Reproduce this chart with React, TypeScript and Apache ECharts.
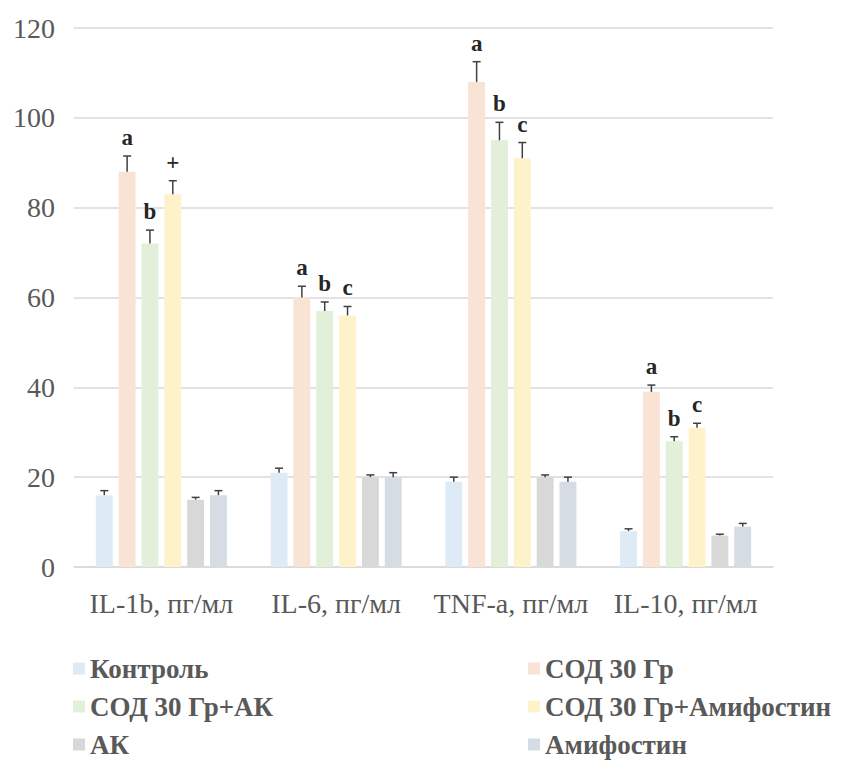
import React, { useEffect, useRef } from "react";
import * as echarts from "echarts";

const categories = ["IL-1b, пг/мл", "IL-6, пг/мл", "TNF-a, пг/мл", "IL-10, пг/мл"];
const seriesNames = ["Контроль", "СОД 30 Гр", "СОД 30 Гр+АК", "СОД 30 Гр+Амифостин", "АК", "Амифостин"];
const colors = ["#DEEAF6", "#F8E3D5", "#E2EFD9", "#FEF2CB", "#D8D8D8", "#D5DCE4"];

const control = [16, 21, 19, 8];
const sod30 = [88, 60, 108, 39];
const sodAk = [72, 57, 95, 28];
const sodAmif = [83, 56, 91, 31];
const ak = [15, 20, 20, 7];
const amif = [16, 20, 19, 9];

const controlErr = [1, 1, 1, 0.5];
const sod30Err = [3.5, 2.5, 4.5, 1.5];
const sodAkErr = [3, 2, 4, 1];
const sodAmifErr = [3, 2, 3.5, 1];
const akErr = [0.5, 0.5, 0.5, 0.3];
const amifErr = [1, 1, 1, 0.7];

const sod30Letters = ["a", "a", "a", "a"];
const sodAkLetters = ["b", "b", "b", "b"];
const sodAmifLetters = ["+", "c", "c", "c"];
const noLetters = ["", "", "", ""];

const values = [control, sod30, sodAk, sodAmif, ak, amif];
const errors = [controlErr, sod30Err, sodAkErr, sodAmifErr, akErr, amifErr];
const letters = [noLetters, sod30Letters, sodAkLetters, sodAmifLetters, noLetters, noLetters];

const FONT = "Liberation Serif";
const CAT_GAP = 0.25;
const BAR_GAP = 0.35;
const N = 6;

export default function App() {
  const ref = useRef<HTMLDivElement>(null);
  useEffect(() => {
    document.body.style.margin = "0";
    const chart = echarts.init(ref.current!, null, { renderer: "svg" });
    const barSeries = seriesNames.map((name, i) => ({
      type: "bar",
      name,
      data: values[i],
      itemStyle: { color: colors[i] },
      barGap: BAR_GAP * 100 + "%",
      barCategoryGap: CAT_GAP * 100 + "%",
      emphasis: { disabled: true },
    }));
    const errSeries = seriesNames.map((name, i) => ({
      type: "custom",
      name: name + "_err",
      silent: true,
      z: 5,
      data: values[i].map((v, j) => [j, v, errors[i][j]]),
      renderItem: (params: any, api: any) => {
        const cat = api.value(0);
        const v = api.value(1);
        const e = api.value(2);
        const letter = letters[i][params.dataIndex];
        const catW = api.size([1, 0])[0];
        const bw = (catW * (1 - CAT_GAP)) / (N + (N - 1) * BAR_GAP);
        const step = bw * (1 + BAR_GAP);
        const base = api.coord([cat, v]);
        const top = api.coord([cat, v + e]);
        const x = base[0] + (i - (N - 1) / 2) * step;
        const children: any[] = [
          {
            type: "line",
            shape: { x1: x, y1: base[1], x2: x, y2: top[1] },
            style: { stroke: "#404040", lineWidth: 1.5 },
          },
          {
            type: "line",
            shape: { x1: x - 4, y1: top[1], x2: x + 4, y2: top[1] },
            style: { stroke: "#404040", lineWidth: 1.5 },
          },
        ];
        if (letter) {
          children.push({
            type: "text",
            x,
            y: top[1] - 7,
            style: {
              text: letter,
              fill: "#262626",
              fontFamily: FONT,
              fontSize: 23,
              fontWeight: "bold",
              align: "center",
              verticalAlign: "bottom",
            },
          });
        }
        return { type: "group", children };
      },
    }));
    const legendText = { fontSize: 27, fontWeight: "bold", color: "#595959", fontFamily: FONT };
    chart.setOption({
      animation: false,
      color: colors,
      textStyle: { fontFamily: FONT },
      grid: { left: 74, right: 74, top: 28, bottom: 193, containLabel: false },
      xAxis: {
        type: "category",
        data: categories,
        axisLine: { lineStyle: { color: "#D9D9D9", width: 1.5 } },
        axisTick: { show: false },
        axisLabel: { fontSize: 28, color: "#595959", margin: 22, fontFamily: FONT, interval: 0 },
      },
      yAxis: {
        type: "value",
        min: 0,
        max: 120,
        interval: 20,
        axisLine: { show: false },
        axisTick: { show: false },
        splitLine: { lineStyle: { color: "#D9D9D9", width: 1.5 } },
        axisLabel: { fontSize: 28, color: "#595959", margin: 19, fontFamily: FONT },
      },
      legend: [
        {
          orient: "vertical",
          left: 68,
          top: 650,
          height: 120,
          itemGap: 11,
          itemWidth: 12,
          itemHeight: 12,
          icon: "rect",
          data: [seriesNames[0], seriesNames[2], seriesNames[4]],
          textStyle: legendText,
          selectedMode: false,
        },
        {
          orient: "vertical",
          left: 523,
          top: 650,
          height: 120,
          itemGap: 11,
          itemWidth: 12,
          itemHeight: 12,
          icon: "rect",
          data: [seriesNames[1], seriesNames[3], seriesNames[5]],
          textStyle: legendText,
          selectedMode: false,
        },
      ],
      series: [...barSeries, ...errSeries],
    });
    return () => chart.dispose();
  }, []);
  return <div ref={ref} style={{ width: 847, height: 760 }} />;
}
